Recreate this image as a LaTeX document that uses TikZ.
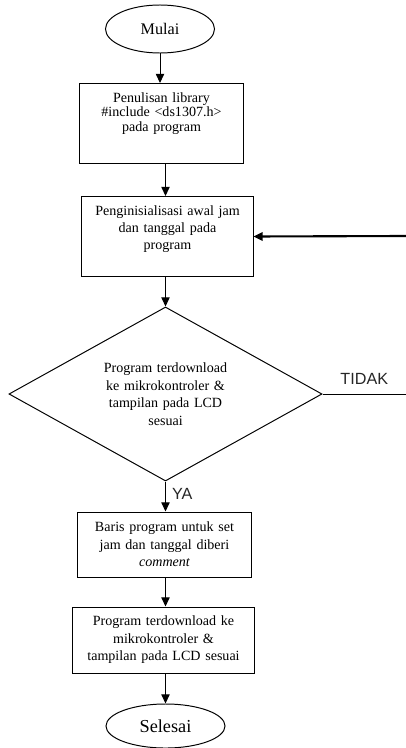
\documentclass[tikz,border=0pt]{standalone}
\usepackage{fontspec}
\setmainfont{Liberation Serif}
\newfontfamily\labelfont{Liberation Sans}
\usetikzlibrary{shapes, arrows.meta, positioning}

\begin{document}
\begin{tikzpicture}[x=0.025cm, y=-0.025cm, >={Triangle[length=2.3mm, width=2.1mm]},
    line width=0.7pt]

    \useasboundingbox (0,0) rectangle (406,748);

    % Start
    \node[ellipse, draw, minimum width=2.725cm, minimum height=1.2cm, inner sep=0pt,
          font=\fontsize{11.5}{13}\selectfont] (mulai) at (160,29) {Mulai};

    % Library
    \node[rectangle, draw, minimum width=4.075cm, text width=3.9cm, align=center,
          inner xsep=0pt, inner ysep=7pt, text height=6.8pt, text depth=36.1pt,
          font=\fontsize{10}{10}\selectfont, anchor=north]
          (library) at (161.5,83) {
        Penulisan library\\
        \#include <ds1307.h>\\
        pada program
    };

    % Inisialisasi
    \node[rectangle, draw, minimum width=4.275cm, text width=4.1cm, align=center,
          inner xsep=0pt, inner ysep=7pt, text height=6.8pt, text depth=36.1pt,
          font=\fontsize{10}{12}\selectfont, anchor=north]
          (init) at (167.5,196) {
        Penginisialisasi awal jam\\
        dan tanggal pada\\
        program
    };

    % Decision
    \node[diamond, draw, minimum width=7.825cm, minimum height=4.35cm, inner sep=0pt,
          aspect=1.8, text width=3.4cm, align=center,
          font=\fontsize{10}{12.5}\selectfont]
          (cek) at (165.5,394) {
        Program terdownload\\
        ke mikrokontroler \&\\
        tampilan pada LCD\\
        sesuai
    };

    % Comment
    \node[rectangle, draw, minimum width=4.325cm, minimum height=1.625cm, text width=4.2cm,
          align=center, inner xsep=0pt, font=\fontsize{10}{12.5}\selectfont]
          (comment) at (164.5,544.5) {
        Baris program untuk set\\
        jam dan tanggal diberi\\
        {\itshape comment}
    };

    % Download
    \node[rectangle, draw, minimum width=4.525cm, minimum height=1.65cm, text width=4.4cm,
          align=center, inner xsep=0pt, font=\fontsize{10}{12.5}\selectfont]
          (unduh) at (163.5,640) {
        Program terdownload ke\\
        mikrokontroler \&\\
        tampilan pada LCD sesuai
    };

    % End
    \node[ellipse, draw, minimum width=2.975cm, minimum height=1.1cm, inner sep=0pt,
          font=\fontsize{13}{15}\selectfont] (selesai) at (165.5,726) {Selesai};

    % Loop back ends
    \coordinate (kembali) at (406,236);
    \coordinate (ujung) at (406,394);

    % Arrows
    \draw[->] (mulai.south) -- (mulai.south |- library.north);
    \draw[->] (library.south -| cek.north) -- (init.north -| cek.north);
    \draw[->] (init.south -| cek.north) -- (cek.north);
    \draw[->] (cek.south) -- node[pos=0.4, right=1pt, font=\labelfont\fontsize{11.5}{13}\selectfont,
          black!85] {YA} (cek.south |- comment.north);
    \draw[->] (comment.south -| cek.south) -- (unduh.north -| cek.south);
    \draw[->] (unduh.south -| cek.south) -- (selesai.north);

    % No branch
    \draw (cek.east) -- node[above=3pt, font=\labelfont\fontsize{11.5}{13}\selectfont,
          black!85] {TIDAK} (ujung);
    \draw[->, line width=1.5pt] (kembali) -- (init.east);

\end{tikzpicture}
\end{document}
